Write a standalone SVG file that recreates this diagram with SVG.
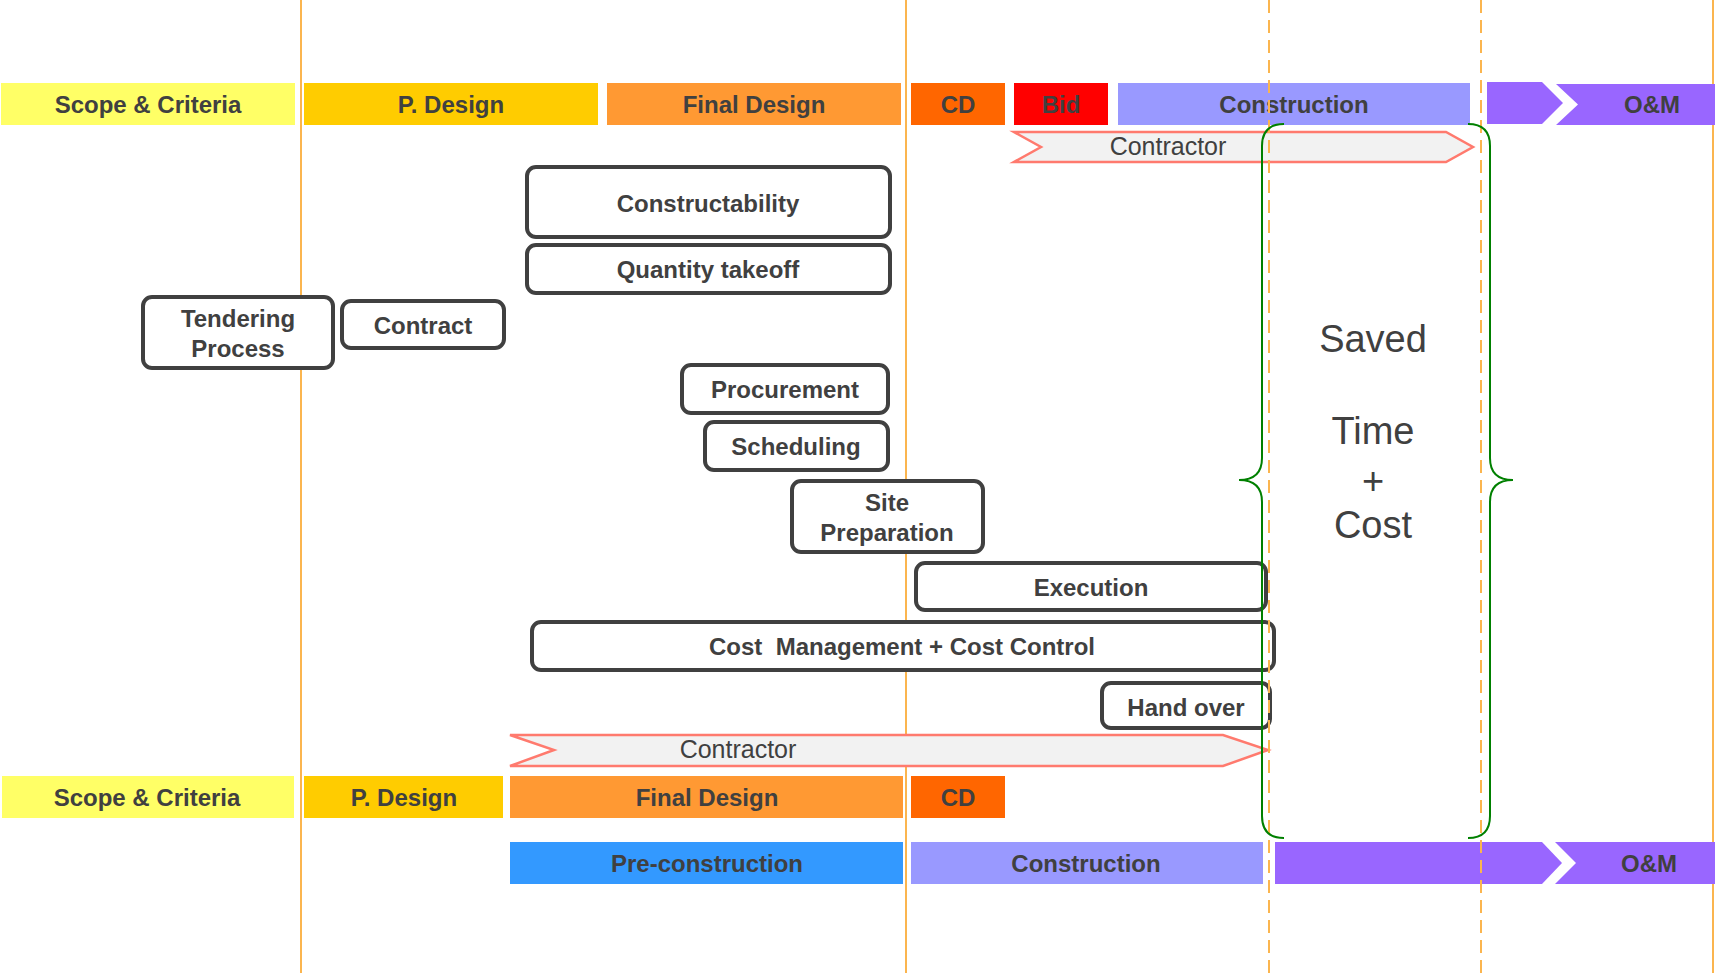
<svg xmlns="http://www.w3.org/2000/svg" width="1715" height="973" viewBox="0 0 1715 973">
<style>
.bar{font-family:"Liberation Sans",Arial,sans-serif;font-weight:bold;font-size:24px;fill:#404040;text-anchor:middle}
.box rect{fill:#ffffff;stroke:#404040;stroke-width:4}
.lbl{font-family:"Liberation Sans",Arial,sans-serif;font-weight:bold;font-size:24px;fill:#404040;text-anchor:middle}
.ctr{fill:#F2F2F2;stroke:#FF7A6E;stroke-width:2.5}
.ctrt{font-family:"Liberation Sans",Arial,sans-serif;font-size:25px;fill:#404040;text-anchor:middle}
.vl{stroke:#FBB54F;stroke-width:2;fill:none}
.dl{stroke:#FBB54F;stroke-width:2;fill:none;stroke-dasharray:13 7}
.brace{stroke:#008000;stroke-width:2;fill:none}
.big{font-family:"Liberation Sans",Arial,sans-serif;font-size:38px;fill:#404040;text-anchor:middle}
</style>
<rect width="1715" height="973" fill="#ffffff"/>
<g id="gridlines">
<line class="vl" x1="301" y1="0" x2="301" y2="973"/>
<line class="vl" x1="906" y1="0" x2="906" y2="973"/>
<line class="vl" x1="1713" y1="0" x2="1713" y2="973"/>
</g>
<g id="top-phases">
<rect x="1" y="83" width="294" height="42" fill="#FFFF66"/>
<text class="bar" x="148" y="113">Scope &amp; Criteria</text>
<rect x="304" y="83" width="294" height="42" fill="#FFCC00"/>
<text class="bar" x="451" y="113">P. Design</text>
<rect x="607" y="83" width="294" height="42" fill="#FF9933"/>
<text class="bar" x="754" y="113">Final Design</text>
<rect x="911" y="83" width="94" height="42" fill="#FF6600"/>
<text class="bar" x="958" y="113">CD</text>
<rect x="1014" y="83" width="94" height="42" fill="#FF0000"/>
<text class="bar" x="1061" y="113">Bid</text>
<rect x="1118" y="83" width="352" height="42" fill="#9999FF"/>
<text class="bar" x="1294" y="113">Construction</text>
<path d="M1487,82 L1542,82 L1563,103 L1542,124 L1487,124 Z" fill="#9966FF"/>
<path d="M1556,84 L1715,84 L1715,125 L1556,125 L1578,104.5 Z" fill="#9966FF"/>
<text class="bar" x="1652" y="113">O&amp;M</text>
</g>
<g id="contractor-top">
<path class="ctr" d="M1014,132 L1446,132 L1473,147 L1446,162 L1014,162 L1041,147 Z"/>
<text class="ctrt" x="1168" y="155">Contractor</text>
</g>
<g id="constructability" class="box"><rect x="527" y="167" width="363" height="70" rx="9"/><text class="lbl" x="708" y="212">Constructability</text></g>
<g id="quantity-takeoff" class="box"><rect x="527" y="245" width="363" height="48" rx="9"/><text class="lbl" x="708" y="278">Quantity takeoff</text></g>
<g id="tendering" class="box"><rect x="143" y="297" width="190" height="71" rx="9"/><text class="lbl" x="238" y="327">Tendering</text><text class="lbl" x="238" y="357">Process</text></g>
<g id="contract" class="box"><rect x="342" y="301" width="162" height="47" rx="9"/><text class="lbl" x="423" y="334">Contract</text></g>
<g id="procurement" class="box"><rect x="682" y="365" width="206" height="48" rx="9"/><text class="lbl" x="785" y="398">Procurement</text></g>
<g id="scheduling" class="box"><rect x="705" y="422" width="183" height="48" rx="9"/><text class="lbl" x="796" y="455">Scheduling</text></g>
<g id="site-prep" class="box"><rect x="792" y="481" width="191" height="71" rx="9"/><text class="lbl" x="887" y="511">Site</text><text class="lbl" x="887" y="541">Preparation</text></g>
<g id="execution" class="box"><rect x="916" y="563" width="350" height="47" rx="9"/><text class="lbl" x="1091" y="596">Execution</text></g>
<g id="cost-mgmt" class="box"><rect x="532" y="622" width="742" height="48" rx="9"/><text class="lbl" x="902" y="655" xml:space="preserve">Cost  Management + Cost Control</text></g>
<g id="hand-over" class="box"><rect x="1102" y="683" width="168" height="45" rx="9"/><text class="lbl" x="1186" y="716">Hand over</text></g>
<g id="contractor-bottom">
<path class="ctr" d="M510,735 L1223,735 L1268,750 L1223,766 L510,766 L554,750 Z"/>
<text class="ctrt" x="738" y="758">Contractor</text>
</g>
<g id="bottom-phases">
<rect x="2" y="776" width="292" height="42" fill="#FFFF66"/>
<text class="bar" x="147" y="806">Scope &amp; Criteria</text>
<rect x="304" y="776" width="199" height="42" fill="#FFCC00"/>
<text class="bar" x="404" y="806">P. Design</text>
<rect x="510" y="776" width="393" height="42" fill="#FF9933"/>
<text class="bar" x="707" y="806">Final Design</text>
<rect x="911" y="776" width="94" height="42" fill="#FF6600"/>
<text class="bar" x="958" y="806">CD</text>
<rect x="510" y="842" width="393" height="42" fill="#3399FF"/>
<text class="bar" x="707" y="872">Pre-construction</text>
<rect x="911" y="842" width="352" height="42" fill="#9999FF"/>
<text class="bar" x="1086" y="872">Construction</text>
<path d="M1275,842 L1542,842 L1562,863 L1542,884 L1275,884 Z" fill="#9966FF"/>
<path d="M1555,842 L1715,842 L1715,884 L1555,884 L1576,863 Z" fill="#9966FF"/>
<text class="bar" x="1649" y="872">O&amp;M</text>
</g>
<g id="dashed-lines">
<line class="dl" x1="1269" y1="0" x2="1269" y2="973"/>
<line class="dl" x1="1481" y1="0" x2="1481" y2="973"/>
</g>
<g id="saved-brace">
<path class="brace" d="M1284,124 Q1262,124 1262,146 L1262,458 Q1262,480 1239,480 Q1262,480 1262,502 L1262,816 Q1262,838 1284,838"/>
<path class="brace" d="M1468,124 Q1490,124 1490,146 L1490,458 Q1490,480 1513,480 Q1490,480 1490,502 L1490,816 Q1490,838 1468,838"/>
<text class="big" x="1373" y="352">Saved</text>
<text class="big" x="1373" y="444">Time</text>
<text class="big" x="1373" y="494">+</text>
<text class="big" x="1373" y="538">Cost</text>
</g>
</svg>
